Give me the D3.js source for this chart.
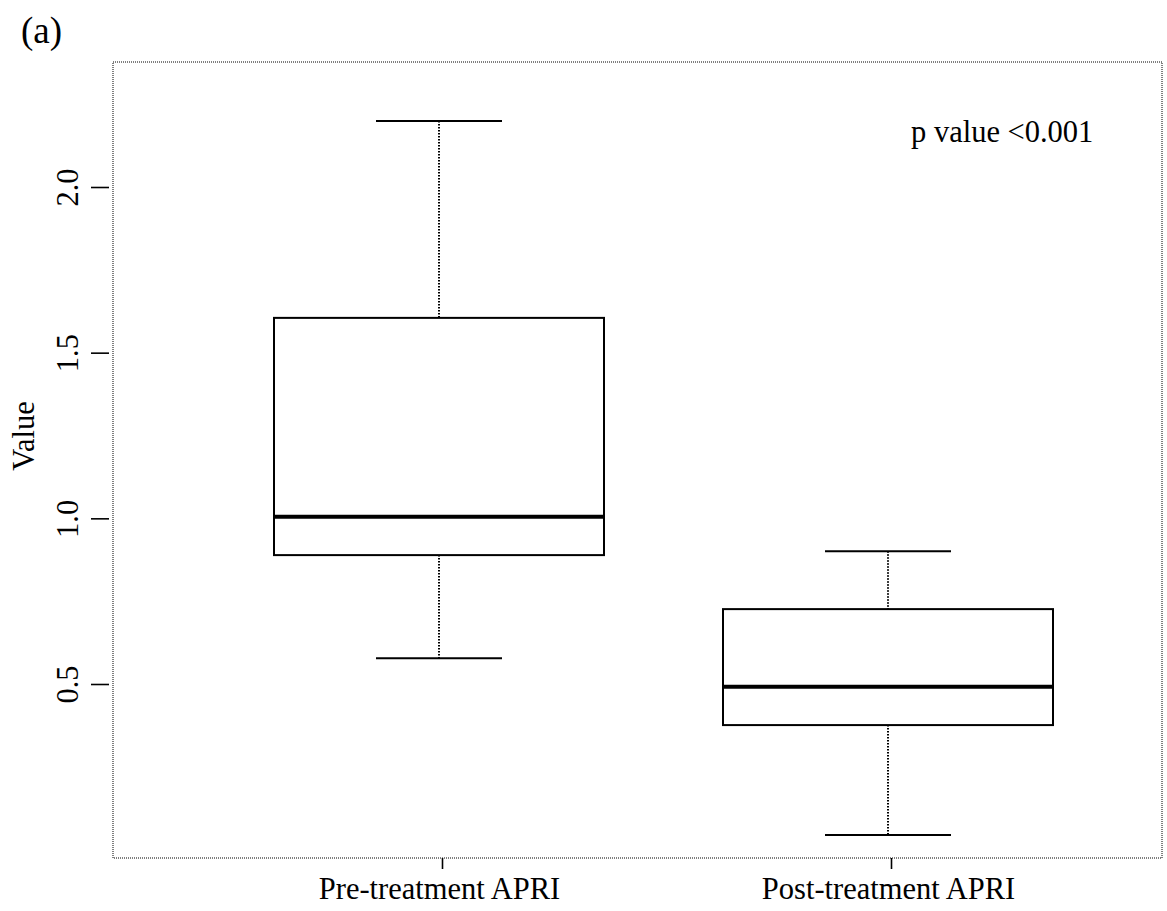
<!DOCTYPE html>
<html>
<head>
<meta charset="utf-8">
<script src="https://cdn.jsdelivr.net/npm/d3@7"></script>
<style>
  body { margin: 0; background: #fff; }
  svg { display: block; font-family: "Liberation Serif", "DejaVu Serif", serif; }
</style>
</head>
<body>
<svg width="1167" height="911"></svg>
<script>
// box summaries
var groups = ["Pre-treatment APRI", "Post-treatment APRI"];
var lowWhisker = [0.578, 0.044];
var q1 = [0.889, 0.376];
var median = [1.005, 0.492];
var q3 = [1.605, 0.726];
var highWhisker = [2.199, 0.901];
var yTicks = [0.5, 1.0, 1.5, 2.0];
var pLabel = "p value <0.001";

var svg = d3.select("svg");

var frame = {left: 113, right: 1162, top: 62, bottom: 858};
var fontSize = "30.5px";

var x = d3.scaleLinear().domain([0, 1]).range([439, 888]);
var y = d3.scaleLinear().domain([0.5, 2.0]).range([684, 187]);

var boxHalf = 165, capHalf = 63;

var data = groups.map(function(g, i) {
  return {name: g, i: i, lo: lowWhisker[i], q1: q1[i], med: median[i], q3: q3[i], hi: highWhisker[i]};
});

// panel label
svg.append("text")
  .attr("x", 21).attr("y", 43)
  .style("font-size", "37px")
  .text("(a)");

// dotted frame
svg.append("rect")
  .attr("x", frame.left).attr("y", frame.top)
  .attr("width", frame.right - frame.left)
  .attr("height", frame.bottom - frame.top)
  .attr("fill", "none")
  .attr("stroke", "#000")
  .attr("stroke-width", 1)
  .attr("stroke-dasharray", "1,1");

// y axis
var yAxis = svg.append("g")
  .attr("transform", "translate(" + (frame.left - 4) + ",0)")
  .call(d3.axisLeft(y).tickValues(yTicks).tickSize(18).tickFormat(d3.format(".1f")));
yAxis.select(".domain").remove();
yAxis.selectAll(".tick line").attr("stroke-width", 1.6);
yAxis.selectAll(".tick text")
  .attr("x", null).attr("dy", null)
  .attr("transform", "translate(-31,0) rotate(-90)")
  .style("text-anchor", "middle")
  .style("font-family", "Liberation Serif")
  .style("font-size", fontSize)
  .attr("fill", "#000");

// x axis
var xAxis = svg.append("g")
  .attr("transform", "translate(0," + frame.bottom + ")")
  .call(d3.axisBottom(x).tickValues([0, 1]).tickSize(11).tickFormat(function(d) { return groups[d]; }));
xAxis.select(".domain").remove();
xAxis.selectAll(".tick line").attr("stroke-width", 1.6).attr("transform", "translate(3,0)");
xAxis.selectAll(".tick text")
  .attr("y", 41).attr("dy", null)
  .style("font-family", "Liberation Serif")
  .style("font-size", fontSize)
  .attr("fill", "#000");

// y axis title
svg.append("text")
  .attr("transform", "translate(34,436) rotate(-90)")
  .style("text-anchor", "middle")
  .style("font-size", fontSize)
  .text("Value");

// boxes
var box = svg.selectAll(".box").data(data).enter().append("g").attr("class", "box");

box.append("line")
  .attr("x1", d => x(d.i)).attr("x2", d => x(d.i))
  .attr("y1", d => y(d.hi)).attr("y2", d => y(d.q3))
  .attr("stroke", "#000").attr("stroke-width", 2).attr("stroke-dasharray", "1.5,1.5");
box.append("line")
  .attr("x1", d => x(d.i)).attr("x2", d => x(d.i))
  .attr("y1", d => y(d.q1)).attr("y2", d => y(d.lo))
  .attr("stroke", "#000").attr("stroke-width", 2).attr("stroke-dasharray", "1.5,1.5");

// whisker caps
box.selectAll(".cap").data(d => [{i: d.i, v: d.hi}, {i: d.i, v: d.lo}]).enter().append("line")
  .attr("class", "cap")
  .attr("x1", d => x(d.i) - capHalf).attr("x2", d => x(d.i) + capHalf)
  .attr("y1", d => y(d.v)).attr("y2", d => y(d.v))
  .attr("stroke", "#000").attr("stroke-width", 2);

box.append("rect")
  .attr("x", d => x(d.i) - boxHalf)
  .attr("y", d => y(d.q3))
  .attr("width", boxHalf * 2)
  .attr("height", d => y(d.q1) - y(d.q3))
  .attr("fill", "none").attr("stroke", "#000").attr("stroke-width", 2);

box.append("line")
  .attr("x1", d => x(d.i) - boxHalf).attr("x2", d => x(d.i) + boxHalf)
  .attr("y1", d => y(d.med)).attr("y2", d => y(d.med))
  .attr("stroke", "#000").attr("stroke-width", 4);

// p value note
svg.append("text")
  .attr("x", 911).attr("y", 142)
  .style("font-size", fontSize)
  .text(pLabel);
</script>
</body>
</html>
